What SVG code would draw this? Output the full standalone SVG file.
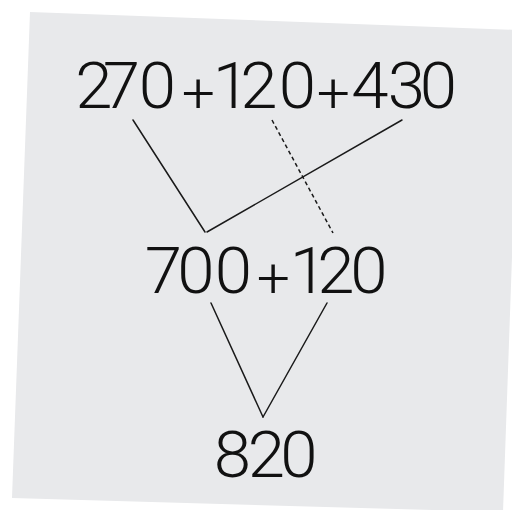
<svg xmlns="http://www.w3.org/2000/svg" width="512" height="510" viewBox="0 0 512 510">
  <style>
    .num { font-family: Roboto, "DejaVu Sans", sans-serif; font-weight: 300; font-size: 64px; fill: #111; text-anchor: middle; }
    .pl { font-size: 56px; }
    .ln { stroke: #1a1a1a; stroke-width: 1.5; fill: none; stroke-linecap: round; }
    .dash { stroke-dasharray: 4 3; stroke-linecap: butt; }
  </style>
  <rect width="512" height="510" fill="#ffffff"/>
  <polygon id="card" points="30,12 520,30 503,512 12,498" fill="#e8e9eb"/>
  <g id="connectors">
    <line class="ln" x1="133" y1="120" x2="205" y2="232"/>
    <line class="ln" x1="207" y1="232" x2="402" y2="120"/>
    <line class="ln dash" x1="272" y1="120" x2="333" y2="233"/>
    <line class="ln" x1="211" y1="303" x2="263" y2="417"/>
    <line class="ln" x1="327" y1="303" x2="263" y2="417"/>
  </g>
  <g id="top" transform="scale(1.05 1)">
    <text class="num" y="108"><tspan x="89.52 115.71 150">270</tspan><tspan class="pl" x="189" y="112">+</tspan><tspan x="220.48 246.67 283.33" y="108">120</tspan><tspan class="pl" x="317.6" y="112">+</tspan><tspan x="352.38 387.14 417.62" y="108">430</tspan></text>
  </g>
  <g id="middle" transform="scale(1.05 1)">
    <text class="num" y="293"><tspan x="155.71 186.67 222.38">700</tspan><tspan class="pl" x="260.4" y="297">+</tspan><tspan x="293.81 320 351.43" y="293">120</tspan></text>
  </g>
  <g id="bottom" transform="scale(1.05 1)">
    <text class="num" x="221.43 253.81 284.76" y="477">820</text>
  </g>
</svg>
